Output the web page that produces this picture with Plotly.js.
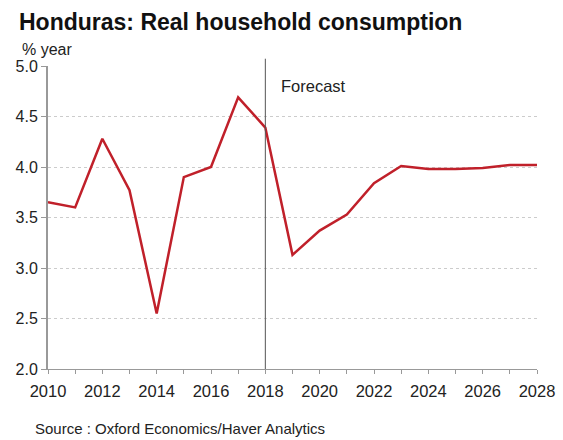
<!DOCTYPE html>
<html>
<head>
<meta charset="utf-8">
<script src="https://cdn.plot.ly/plotly-3.0.1.min.js"></script>
<style>
  html, body { margin: 0; padding: 0; background: #fff; }
  #chart { width: 563px; height: 440px; }
</style>
</head>
<body>
<div id="chart"></div>
<script>
// Real household consumption, % year
const years = [2010, 2011, 2012, 2013, 2014, 2015, 2016, 2017, 2018, 2019,
               2020, 2021, 2022, 2023, 2024, 2025, 2026, 2027, 2028];
const consumption = [3.65, 3.60, 4.28, 3.77, 2.55, 3.90, 4.00, 4.69, 4.39, 3.13,
                     3.37, 3.53, 3.84, 4.01, 3.98, 3.98, 3.99, 4.02, 4.02];
const forecastStart = 2018;
const yTicks = [2.0, 2.5, 3.0, 3.5, 4.0, 4.5, 5.0];
const xTicks = [2010, 2012, 2014, 2016, 2018, 2020, 2022, 2024, 2026, 2028];

const font = "Liberation Sans, Arial, sans-serif";

const trace = {
  x: years,
  y: consumption,
  mode: 'lines',
  line: { color: '#c0202a', width: 2.5 },
  hoverinfo: 'skip'
};

const layout = {
  width: 563,
  height: 440,
  margin: { l: 48, r: 26, t: 66, b: 71 },
  paper_bgcolor: '#fff',
  plot_bgcolor: '#fff',
  showlegend: false,
  font: { family: font, size: 16, color: '#222' },
  xaxis: {
    range: [2010, 2028],
    tickvals: xTicks,
    ticktext: xTicks.map(String),
    showgrid: false,
    zeroline: false,
    showline: true,
    linecolor: '#999',
    linewidth: 1,
    ticks: 'outside',
    ticklen: 4,
    tickcolor: '#999',
    ticklabelstandoff: 3,
    tickfont: { size: 16.5, color: '#222' },
    minor: { tickvals: years.filter(y => y % 2 === 1), ticks: 'outside', ticklen: 4, tickcolor: '#999' }
  },
  yaxis: {
    range: [2.0, 5.0],
    tickvals: yTicks,
    ticktext: yTicks.map(v => v.toFixed(1)),
    showgrid: true,
    gridcolor: '#ccc',
    griddash: 'dot',
    gridwidth: 1,
    zeroline: false,
    showline: true,
    linecolor: '#999',
    linewidth: 2,
    ticks: 'outside',
    ticklen: 5,
    tickcolor: '#999',
    tickfont: { size: 16, color: '#222' }
  },
  shapes: [{
    type: 'line', xref: 'x', yref: 'paper',
    x0: forecastStart, x1: forecastStart, y0: 0, y1: 1.024,
    line: { color: '#555', width: 1 }
  }],
  annotations: [
    {
      text: '<b>Honduras: Real household consumption</b>',
      xref: 'paper', yref: 'paper', x: -0.064, y: 1.145,
      xanchor: 'left', yanchor: 'middle', showarrow: false,
      font: { family: font, size: 23, color: '#111' }
    },
    {
      text: '% year',
      xref: 'paper', yref: 'paper', x: -0.058, y: 1.053,
      xanchor: 'left', yanchor: 'middle', showarrow: false,
      font: { family: font, size: 16, color: '#222' }
    },
    {
      text: 'Forecast',
      xref: 'x', yref: 'paper', x: 2018.5, y: 0.934,
      xanchor: 'left', yanchor: 'middle', showarrow: false,
      font: { family: font, size: 16.5, color: '#222' }
    },
    {
      text: 'Source : Oxford Economics/Haver Analytics',
      xref: 'paper', yref: 'paper', x: -0.03, y: -0.196,
      xanchor: 'left', yanchor: 'middle', showarrow: false,
      font: { family: font, size: 15, color: '#222' }
    }
  ]
};

Plotly.newPlot('chart', [trace], layout, { displayModeBar: false, staticPlot: true });
</script>
</body>
</html>
